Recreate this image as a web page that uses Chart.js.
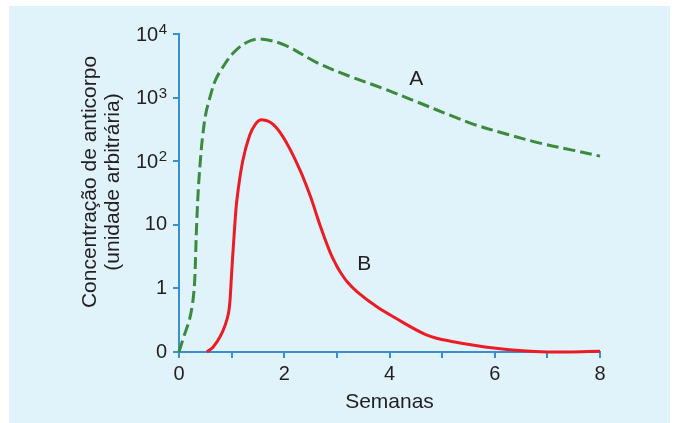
<!DOCTYPE html>
<html>
<head>
<meta charset="utf-8">
<script src="https://cdn.jsdelivr.net/npm/chart.js@4"></script>
<style>
  html, body { margin: 0; padding: 0; background: #ffffff; }
  #wrap { position: relative; width: 675px; height: 423px; }
</style>
</head>
<body>
<div id="wrap"><canvas id="c"></canvas></div>
<script>
// Weeks (x) and antibody concentration in axis units (0,1,10,10^2,10^3,10^4 -> 0..5)
const weeksA = [0, 0.095, 0.196, 0.25, 0.28, 0.3, 0.315, 0.335, 0.37, 0.41, 0.45, 0.51, 0.59, 0.68, 0.78, 1.03, 1.29, 1.55, 2.0, 2.62, 3.26, 3.89, 4.53, 5.16, 5.6, 6.25, 6.88, 7.5, 8.0];
const concA  = [0, 0.25, 0.5, 0.72, 0.92, 1.15, 1.5, 2.0, 2.6, 3.05, 3.4, 3.75, 4.01, 4.25, 4.41, 4.7, 4.87, 4.92, 4.83, 4.55, 4.33, 4.14, 3.93, 3.72, 3.58, 3.42, 3.28, 3.17, 3.08];

const weeksB = [0.53, 0.65, 0.78, 0.88, 0.94, 0.97, 1.0, 1.05, 1.1, 1.21, 1.34, 1.45, 1.57, 1.8, 2.05, 2.3, 2.5, 2.69, 2.88, 2.98, 3.07, 3.2, 3.38, 3.76, 4.08, 4.7, 5.16, 6.02, 7.0, 8.0];
const concB  = [0, 0.08, 0.24, 0.43, 0.61, 0.82, 1.24, 1.87, 2.39, 3.0, 3.4, 3.58, 3.65, 3.57, 3.28, 2.86, 2.44, 1.97, 1.55, 1.38, 1.25, 1.1, 0.95, 0.71, 0.55, 0.27, 0.17, 0.06, 0.0, 0.01];

// Tick labels: base text and superscript exponent
const yTickBase = ['0', '1', '10', '10', '10', '10'];
const yTickExp  = ['', '', '', '2', '3', '4'];
const xTickLabels = ['0', '', '2', '', '4', '', '6', '', '8'];
const seriesNames = ['A', 'B'];
const seriesLabelPos = [[4.51, 4.29], [3.52, 1.38]];
const xTitle = 'Semanas';
const yTitle = ['Concentração de anticorpo', '(unidade arbitrária)'];

const BLUE = '#3a8fd2';
const TEXT = '#231f20';
const GREEN = '#3b8a3e';
const RED = '#ec1c24';
const FONT = '"Liberation Sans", Arial, sans-serif';

const bgPlugin = {
  id: 'bg',
  beforeDraw(chart) {
    const ctx = chart.ctx;
    ctx.save();
    ctx.fillStyle = '#ffffff';
    ctx.fillRect(0, 0, chart.width, chart.height);
    ctx.fillStyle = '#e0f2fa';
    ctx.fillRect(9, 6, 661, chart.height - 6);
    ctx.restore();
  }
};

const textPlugin = {
  id: 'texts',
  afterDraw(chart) {
    const ctx = chart.ctx;
    const xs = chart.scales.x, ys = chart.scales.y;
    ctx.save();
    ctx.fillStyle = TEXT;

    // y tick labels with superscripts
    const right = ys.right - 6 - 6;
    ys.ticks.forEach((t, i) => {
      const y = ys.getPixelForValue(t.value);
      const base = yTickBase[i], exp = yTickExp[i];
      ctx.textBaseline = 'middle';
      ctx.textAlign = 'right';
      if (exp) {
        ctx.font = '15px ' + FONT;
        const w = ctx.measureText(exp).width;
        ctx.fillText(exp, right, y - 4);
        ctx.font = '20px ' + FONT;
        ctx.fillText(base, right - w - 0.5, y + 1);
      } else {
        ctx.font = '20px ' + FONT;
        ctx.fillText(base, right, y);
      }
    });

    // y axis title (two lines, rotated)
    ctx.font = '21px ' + FONT;
    ctx.textAlign = 'center';
    ctx.textBaseline = 'middle';
    const cy = (ys.top + ys.bottom) / 2 - 11;
    yTitle.forEach((line, k) => {
      ctx.save();
      ctx.translate(90 + 23 * k, cy);
      ctx.rotate(-Math.PI / 2);
      ctx.fillText(line, 0, 0);
      ctx.restore();
    });

    // series labels
    ctx.font = '21px ' + FONT;
    seriesNames.forEach((n, i) => {
      ctx.fillText(n, xs.getPixelForValue(seriesLabelPos[i][0]), ys.getPixelForValue(seriesLabelPos[i][1]));
    });
    ctx.restore();
  }
};

const toPts = (xs, ys) => xs.map((x, i) => ({ x: x, y: ys[i] }));

new Chart(document.getElementById('c'), {
  type: 'line',
  data: {
    datasets: [
      {
        label: seriesNames[0],
        data: toPts(weeksA, concA),
        borderColor: GREEN,
        borderWidth: 3,
        borderDash: [12, 5],
        pointRadius: 0,
        tension: 0.35,
        fill: false,
        clip: 6
      },
      {
        label: seriesNames[1],
        data: toPts(weeksB, concB),
        borderColor: RED,
        borderWidth: 3,
        pointRadius: 0,
        tension: 0.35,
        fill: false,
        clip: 6
      }
    ]
  },
  options: {
    responsive: true,
    maintainAspectRatio: false,
    animation: false,
    layout: { padding: { left: 0, top: 34, right: 75, bottom: 0 } },
    plugins: { legend: { display: false }, tooltip: { enabled: false } },
    scales: {
      x: {
        type: 'linear',
        min: 0, max: 8,
        afterFit(s) { s.height = 71; },
        ticks: {
          stepSize: 1,
          autoSkip: false,
          maxRotation: 0,
          padding: 4,
          color: TEXT,
          font: { family: FONT, size: 20 },
          callback: (v, i) => xTickLabels[i]
        },
        grid: { drawOnChartArea: false, drawTicks: true, tickLength: 6, color: BLUE, lineWidth: 2 },
        border: { color: BLUE, width: 2 },
        title: {
          display: true,
          text: xTitle,
          color: TEXT,
          font: { family: FONT, size: 21, lineHeight: 1.1 },
          padding: { top: 0, bottom: 9.5 }
        }
      },
      y: {
        type: 'linear',
        min: 0, max: 5,
        afterFit(s) { s.width = 179; },
        ticks: {
          stepSize: 1,
          autoSkip: false,
          display: false
        },
        grid: { drawOnChartArea: false, drawTicks: true, tickLength: 6, color: BLUE, lineWidth: 2 },
        border: { color: BLUE, width: 2 },
        title: { display: false }
      }
    }
  },
  plugins: [bgPlugin, textPlugin]
});
</script>
</body>
</html>
